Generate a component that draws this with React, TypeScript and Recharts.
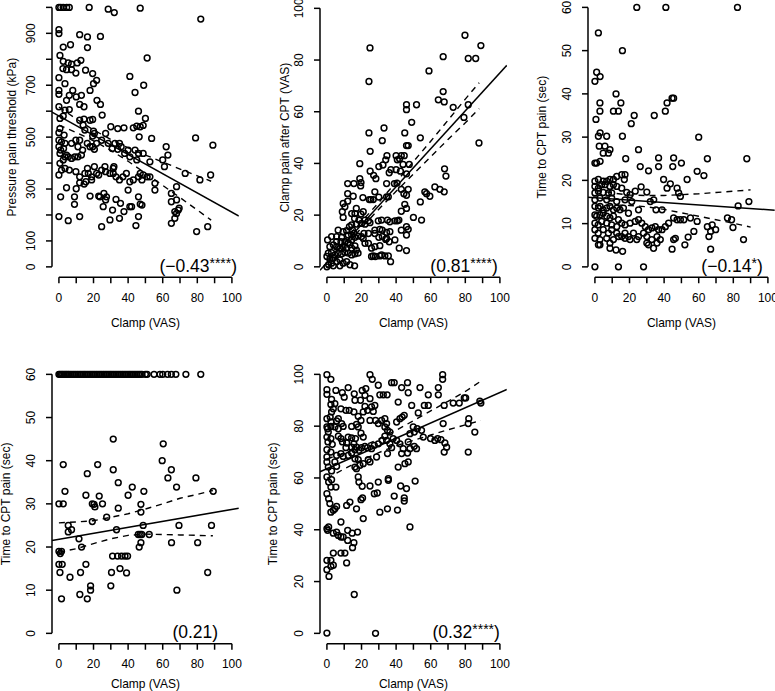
import React from 'react';
import { ScatterChart, Scatter, XAxis, YAxis, ReferenceLine } from 'recharts';

const FONT = '"Liberation Sans", Arial, Helvetica, sans-serif';

type Pt = [number, number];

// ---------- tick arrays ----------
const clampTicks = [0, 10, 20, 30, 40, 50, 60, 70, 80, 90, 100];
const clampTickLabels = [0, 20, 40, 60, 80, 100];
const pressureTicks = [0, 100, 200, 300, 400, 500, 600, 700, 800, 900, 1000];
const pressureTickLabels = [0, 100, 300, 500, 700, 900];
const vasTicks = [0, 20, 40, 60, 80, 100];
const secTicks = [0, 10, 20, 30, 40, 50, 60];

// ---------- panel 1: pressure pain threshold ----------
const p1Points: Pt[] = [
  [0,1000],[1,1000],[2.5,1000],[4.5,1000],[6,1000],[17.5,1000],[28.5,993],[32,980],[47,997],[82,955],
  [0,914],[0,899],[12,895],[16.5,886],[24,888],
  [2.5,847],[6.7,856],[16.5,845],[0.6,815],[51,805],
  [2.5,792],[5.4,786],[7.3,781],[10.6,786],[12.7,796],
  [2.3,764],[4.4,760],[7.3,760],[9.8,747],[15.4,758],[19.5,745],
  [0,729],[21.8,719],[20,706],[41,734],[3.5,706],
  [49,700],[44,672],
  [0,680],[0,665],[8,680],[6,661],[10,655],[13,661],[18,680],
  [4.4,642],[22,642],[24,626],[12,626],[14.5,617],[0,617],[3.5,604],[6,606],[46,600],[25,585],
  [0.6,572],[2.5,581],[50,572],[12,565],[14.5,569],[18,565],[19.5,568],
  [30,540],[34,533],[37.6,536],[43,536],[45,542],[47,540],[48.7,545],
  [0.6,533],[0,517],[15,527],[14,546],[20,523],[20.5,514],[19.5,504],[27,514],[3,508],[46.4,501],[79,497],[89,469],
  [0,488],[1.5,482],[3.5,476],[0,463],[1,450],[2.7,456],[0.6,437],[4.4,431],
  [7.3,476],[9.8,488],[11,463],[13.7,450],[12,488],
  [16.4,476],[18,463],[19.5,463],[21.8,476],[20.5,453],[24.7,488],
  [28.5,476],[30.8,456],[32.4,476],[34,453],[35,476],[36,463],[38,437],[40,450],[41,424],[44,450],[46,437],[45,412],[48.7,437],
  [52.6,405],[53.6,495],[62,463],[63,431],[60,412],[61,386],[73,360],[87.7,354],[81.5,335],
  [3.5,424],[5.4,424],[7.3,418],[9.2,424],[11,424],[13,431],
  [0.6,399],[2.5,412],[1.5,373],[3.5,379],[6,373],[9.8,367],[0,354],
  [16.5,379],[20.5,386],[21.8,360],[12,347],[15,360],[17,360],[18.9,347],[15.6,328],[12,324],[18.9,335],
  [23,354],[24.7,373],[26.6,386],[27,367],[29.5,360],[31.4,360],[33,347],[35,335],[37,347],[31.4,379],[31.8,386],
  [39,360],[41,328],[43,335],[46,347],[47,360],[48,335],[51,347],[52.6,347],[48.7,354],
  [55.5,322],[55.5,296],[4.4,305],[10,301],[14.6,319],
  [1,270],[9,270],[9,241],[18,273],[23,273],[23.7,270],[26,283],[27,258],[27.5,270],[25.6,232],[31,219],[33,260],[35.6,245],[40,296],[41,232],[42,232],
  [46,270],[47,242],[48,238],[46,194],[37.6,213],[35,187],[29.5,181],[24.7,155],[44.5,159],
  [0,194],[5.4,178],[12,194],
  [68,309],[65,283],[65,251],[68,258],[67,213],[68,206],[69,219],[69.5,226],[67,187],[65,168],
  [79.6,136],[86,155],
];
const p1Fit: Pt[] = [[-4, 596], [104, 196]];
const p1Upper: Pt[] = [[0,616],[10,570],[20,528],[30,491],[40,459],[50,431],[60,404],[70,377],[80,351],[88,330]];
const p1Lower: Pt[] = [[0,546],[10,518],[20,486],[30,449],[40,407],[50,361],[60,314],[70,267],[80,219],[88,180]];

// ---------- panel 2: clamp pain after CPT ----------
const p2Points: Pt[] = [
  [24.9,84.7],[24.3,71.7],[79.8,89.6],[89,85.6],[67.2,81.3],[81.7,80.6],[86,80.6],[59,75.8],
  [67.2,67.8],[64.4,64.6],[67.8,63.8],[81.7,62.7],[73,61.7],[79.2,57.8],[87.9,47.9],
  [46,62.7],[51.8,62.7],[46,60.8],[49,55.9],[33,53.7],[24.3,51.8],[45,51.8],[32,48.8],[54,49.9],
  [46,46.9],[47,46.9],[25,44.7],[19,39.9],[34.7,43],[40,43],[43,43],[44.7,43],[34,41.4],[40.7,41.4],[42,41.8],
  [25,37],[27,35.4],[28.3,34.1],[30,38.8],[32.4,39.4],[37,37.6],[40,37.6],[42.5,37],[44,39.6],[47.6,39.6],[46,36],[36,36.4],
  [34.5,32.2],[39,32.2],[40.5,32.4],[12,32.2],[15.6,32.2],[19,34.1],[19.7,32.6],[19.5,31.3],
  [12,28.3],[15.2,27.3],[20.8,26.8],[24.5,26],[25.4,26],[26.8,26],[27.7,29],[30,27],[34.5,27.1],[35.5,27.1],
  [43,30],[47,30],[44.5,28.3],[56.6,29],[57.6,28.3],[59.5,27.3],[54,25.1],[62.4,30.9],[65.3,30],[67.8,29],[68,37.9],[68.8,35.1],
  [9.4,24.5],[12,25.4],[10.4,23.2],[8.9,21.3],[9.4,19.1],[46,27.7],[45,24.2],[46,22.6],[43,21.5],[50,19.1],[54.7,18.1],
  [14.3,20.6],[17,22.6],[16.2,20.6],[19.7,20.4],[21,21.3],[16,18.7],[18.5,18.1],[22,18.1],[24,17.8],[24.9,17.1],[22,16.5],[20,16.8],[17,16.5],
  [13,15.5],[14.3,16.2],[14.8,14.2],[15.6,12.9],[12.3,12.3],[16.2,11.4],[18,11.9],
  [29.7,17.8],[31.6,18.1],[35,18.1],[36.4,17.4],[39.3,17.8],[40.7,17.8],[41.6,18.1],
  [30.6,14.5],[32,14.2],[34.5,13.3],[36.4,13.6],[27.7,12.9],[30,11.4],[32,11.7],[34.5,11],[34,10.6],[27.7,14.2],[24,12.9],
  [36,9.7],[39.3,10.4],[27.7,7.8],[30.6,8.2],[25.8,7.2],[28,4],[25.8,4],[26.8,4.2],[30.6,4.2],[31.6,4.6],[33.5,4.2],[35.5,4.2],[36.8,2],
  [41.8,7.2],[46,6.3],[46,15.5],[47,14.5],[46,12.3],[43,14.2],[21,11],[20,11.7],[21.4,12.9],
  [2.7,11.7],[5.6,11.7],[8.5,11.4],[6.5,14.2],[9.4,13.6],[11.4,14],
  [1.7,7.8],[3.7,8.5],[5.6,7.8],[7.5,7.2],[9.4,7.8],[11.4,7.2],[13.3,8.5],[14.3,7.2],[16.2,8.1],[17.1,6.5],
  [0.8,5.3],[2.7,5.5],[4.6,4.6],[6.5,5.3],[8.5,5],[10.4,5.5],[12.3,5.3],[14.3,4.6],[16.2,5],[18,5.3],
  [0,4],[1.7,2.9],[3.7,3.3],[5.6,2],[7.5,2.7],[9.4,1.4],[11.4,2],[13.3,0.8],[16,0.4],[7.5,0.4],[3.7,0.4],
  [0,0],[1,0.8],[2.7,1.4],[5.6,9.7],[8.1,9.7],[10.4,9.7],[12.3,9.4],[14.3,10.4],[0.4,10.4],[14.3,12.3],[22,9.1],[24,9.1],
];
const p2Fit: Pt[] = [[-4, -1.3], [104, 78]];
const p2Upper: Pt[] = [[0,3.6],[10,10.4],[20,17.5],[30,24.9],[40,32.8],[50,40.7],[60,48.6],[70,56.7],[80,64.9],[88,71.2]];
const p2Lower: Pt[] = [[0,-0.4],[10,7.4],[20,15.1],[30,22.3],[40,29.2],[50,35.9],[60,42.6],[70,49.3],[80,55.7],[88,61.2]];

// ---------- panel 3: time to CPT pain ----------
const p3Points: Pt[] = [
  [24.2,60],[41,60],[82.4,60],[2,54.1],[15.9,50],[0,42.9],[1,45],[12.2,40],[15,37.9],[10.7,36],[13.6,36],[2.9,37.9],[2.9,36],
  [40.7,36],[41.7,37.9],[44.6,39],[45.5,39],[22.7,35],[21,33.1],[34.3,35],[0.6,34.1],[2,30.2],[3,31],[6.8,30.2],[15.9,30.2],[60,30],
  [2.5,27.9],[5.8,27.9],[7.8,26.3],[8.7,27.1],[4.8,26.3],[25.2,27.1],[0,24],[1,24],[3,24.4],[17.8,25],[26.2,23.2],[31,22.2],[36.8,25.2],[36.8,23.2],
  [45.5,25.2],[45,23.2],[50,24],[53.3,20.2],[59.1,22.1],[63,21.1],[65,25],[87.8,25],[39.7,20.2],[43.6,19.2],[41.7,18.2],[47.5,18.2],[48.4,17.1],[49.4,16.3],
  [0,19.8],[2,20.2],[4.8,19.8],[6.8,19.8],[8.7,20.2],[10.7,20.2],[12.6,20.9],[15.5,21.3],[17.4,21.3],[17,20.2],
  [0,18.6],[2,18.2],[3.9,19],[5.8,19],[8.7,18.6],[10.7,19],[12.6,18.6],[15.5,18.2],
  [0,17.1],[2,17.5],[4.8,17.2],[7.8,17.1],[9.7,17.1],[18.4,17.2],[20.3,16.7],
  [0,15.5],[2.9,15.9],[6.8,15.5],[9.7,15.9],[12.6,15.1],[17.4,15.5],[21.3,15.1],
  [23.3,17.5],[26.7,18.5],[30,17.3],[32,15.1],[34,15.5],[35.3,13.2],[38.8,13.2],[25.2,13.2],
  [0,14],[2,13.6],[3,14],[4.8,13.2],[6.8,13.6],[8.7,14],[10.7,13.2],[12.6,13.6],[14.5,13.2],[16.5,13.6],[19.4,12.4],
  [0,12],[1,11.7],[2.9,12],[4.8,12.4],[6.8,11.7],[8.7,11.3],[10.7,11.7],[13.6,10.9],
  [0,10.1],[1.9,9.7],[3.9,10.5],[6.8,10.1],[9.7,9.7],[12.6,9.3],[15.5,10.1],[17.4,9.7],[20.3,10.1],[23.3,10.5],
  [25.2,10.9],[27.1,10.1],[29.1,9.3],[31,8.6],[33,9],[34.9,9.3],[36.8,8.6],[38.8,8.6],[40.7,9.3],[42.6,10.1],
  [45.5,11.3],[47.5,10.9],[49.4,10.9],[51.4,10.9],[55.2,11.3],[59.1,10.5],[76.6,11.3],[79,10.9],
  [65,9.3],[67.8,9.7],[69.8,8.6],[66.9,8.2],[65.9,7],[79.8,9.1],[85.9,6.3],
  [0,8.6],[1.9,7.8],[4.8,8.6],[7.8,7.8],[9.7,8.6],[12.6,7.8],[15.5,7],[17.4,7.8],[19.4,7],[22.3,7.8],[25.2,7],[28.1,7.8],[30,7],
  [0,6.6],[2.9,6.3],[6.8,6.6],[10.7,6.3],[13.6,7],[17.4,6.6],[20.3,6.3],[24.2,6.3],[30,5.5],[32.9,6.3],[35.9,7],[37.8,6.3],
  [2,5.1],[2.9,5.1],[8.7,5.5],[12.2,3.9],[16,3.6],[8.7,4.3],[31,5.1],[33.9,4.3],[35.9,5.5],
  [45.5,6.3],[46.5,6.6],[44.6,4.1],[52,5.1],[53.9,6.9],[57.2,8.2],[66.9,4.1],
  [0,0],[13.6,0],[28.1,0],[82.8,14.1],[89,15.1],[3,44],
];
const p3Fit: Pt[] = [[-4, 16.1], [104, 13.1]];
const p3Upper: Pt[] = [[0,17.8],[10,17.1],[20,16.6],[30,16.5],[40,16.5],[50,16.7],[60,16.9],[70,17.2],[80,17.5],[90,17.8]];
const p3Lower: Pt[] = [[0,14.2],[10,14.3],[20,14.2],[30,13.9],[40,13.3],[50,12.5],[60,11.7],[70,10.9],[80,10.1],[90,9.2]];

// ---------- panel 4: time to CPT pain (censored at 60) ----------
const p4Points: Pt[] = [
  [0,60],[0.7,60],[1.5,60],[2.2,60],[3,60],[3.8,60],[4.5,60],[5.3,60],[6,60],[7,60],[8,60],[9,60],[10,60],[11,60],[12,60],
  [13,60],[14,60],[15,60],[16,60],[17,60],[18,60],[19,60],[20,60],[21,60],[22,60],[23,60],[24,60],[25,60],[26,60],[27,60],
  [28,60],[29,60],[30,60],[31,60],[32,60],[33,60],[34,60],[35,60],[36,60],[37,60],[38,60],[39,60],[40,60],[41,60],[42,60],
  [43,60],[44,60],[45,60],[46,60],[47,60],[48,60],[50,60],[51,60],[55,60],[58.4,60],[60,60],[62.8,60],[65,60],[67.6,60],[73.4,60],[82,60],
  [31.4,45],[60.3,43.9],[2.5,39.1],[22.4,39.1],[16.4,37],[31.4,37.9],[65,37.9],[63,36],[79.2,36],[59.7,40],[34.3,34.9],[42.4,33.9],
  [3.5,32.9],[49.1,32.9],[89.2,32.9],[15.6,32],[23.3,31.8],[40,32],[68,33.9],
  [0,30],[2.5,30],[19.3,30],[20.3,29.9],[20.8,29.3],[25.2,30],[47.4,29.9],[34.3,29],[27.6,26.9],[19.3,25.9],[33.3,24],[47.4,28.1],
  [5.4,25],[7.3,24],[5.4,23.5],[48.7,25],[69.4,25],[88.2,25],[45.9,22.9],[47,22.9],[47.9,22.9],[52.2,22.9],[11.6,21.9],[13.1,20],
  [46.4,20],[47.4,21],[65.1,21],[80.2,21],
  [0,19],[1.5,19],[0.8,18.5],[31,17.9],[33.9,17.9],[36.2,17.9],[38.2,17.9],[39.7,17.9],[15.6,16],[0,16],[1.9,16],[35.3,15],
  [30.4,14.1],[39.1,14],[0.6,14.1],[12.5,14.1],[6.4,13],[86,14.1],
  [30,11],[18.3,11],[18.3,10],[12.1,9],[16.4,8],[68.2,10],[1.5,8],
];
const p4Fit: Pt[] = [[-4, 21.5], [104, 29.0]];
const p4Upper: Pt[] = [[0,25.6],[10,25.8],[20,26.1],[30,26.9],[40,27.7],[50,28.8],[60,30],[70,31.3],[80,32.2],[89,33.1]];
const p4Lower: Pt[] = [[0,18.8],[10,19.6],[20,20.8],[30,21.9],[40,22.7],[50,23],[60,22.9],[70,22.8],[80,22.7],[89,22.6]];

// ---------- panel 5 ----------
const p5Points: Pt[] = [
  [0,99.9],[24.9,99.9],[66.9,99.9],[66.9,98.1],[2.3,98.1],[26.2,98.1],[37.4,96.8],[38.9,96.8],[46.6,96.8],[53.8,94.9],[64.4,94.9],
  [0,94.1],[5.2,93.8],[12.3,94.9],[20.4,93.8],[22.5,94.5],[29.7,95.8],[0,92.3],[8.9,92.9],[15.8,92.5],[22,91.9],[30.6,92.1],[32.6,92.1],[34.8,92.1],[43.2,94.9],[47,92.9],
  [2.7,90.3],[10,91.2],[16.2,90],[19.4,90],[24.9,90.6],[58.6,92.1],[64.4,92.1],[79.4,90.9],[80.2,90.9],[88.4,89.7],[89,88.9],
  [2.3,88.4],[4.6,88.7],[3.7,86.7],[2.7,85.5],[8.1,86.7],[11,86.1],[12.9,86.1],[15.6,85.5],[21,85.5],[23.5,86.1],[26.8,85.7],[22,87.6],[25.8,87.4],[27.7,88],
  [41.2,89.3],[49,88],[52.8,85.1],[56.3,88],[58.6,88],[67.8,88],[73,88.9],[76.5,88.9],
  [0,82.9],[1.9,83.5],[6.6,82.9],[2.3,81.6],[9.4,79.9],[5.6,82],[8.5,81],[0,79.7],[0.4,79],[2.3,79.9],[4.6,79.7],[6.6,79],[0.8,77.7],
  [14.3,79.9],[17.1,80.7],[18.1,79.7],[18.1,83.8],[19.7,82.2],[24.9,82.2],[28.1,82.2],[29.7,81],[31.6,82.2],[33.5,82.9],[34.5,81],
  [40.3,81.6],[42.2,82.9],[43.5,83.5],[44.7,84.2],[49.9,79.7],[52.2,79],[33.5,79.7],[35,78.4],[36.4,77.7],
  [48,77.1],[50.5,77.7],[54.7,78.4],[55.7,75.8],[59.9,75.2],[62.4,74.5],[64,75.2],[65.9,74.8],[82,82.9],[81.7,81],[85.5,77.7],
  [67.2,81],[68.2,73.5],[69.2,71.9],[67.8,70],[81.7,70],
  [0,75.8],[0.6,73.9],[2.3,75.2],[3.1,73],[6.6,76.1],[8.1,75.2],[9,73.9],[11.4,73.5],[11,71.7],[14.3,71.9],[15.6,73.2],[12.3,75.8],[14.3,75.5],[16.5,75.2],[19.7,77.3],[21,75.8],
  [0,70.9],[2.3,70],[5.6,68.7],[8.1,69.4],[9.4,68.3],[12.3,68.7],[14.3,69.6],[16.2,70.9],[17.1,71.9],[18.5,70.7],[20,71.7],[22,72.2],[23.5,71.7],
  [25.8,71.3],[27.4,72.6],[29.7,73.2],[32,74.5],[33.5,76.1],[34.5,74.5],[38.3,75.2],[40.3,74.5],[42.2,73.2],[44.1,71.3],[47,73.9],[48,71.3],[50.5,72.2],
  [36.4,73.2],[37.4,71.7],[35,69.4],[43.2,69.4],[46.6,69.6],[47,66.2],[45.1,65.5],[41.2,64.2],[51.8,71.3],
  [0,68.1],[0,66.2],[0.8,64.2],[2.7,62.7],[4.6,66.2],[5.6,64.5],[16.2,67.4],[18.1,67.1],[16.2,64.2],[17.1,63.6],[19.1,64.9],[21,65.5],[23.9,67.1],[24.9,66.2],[28.7,68.1],
  [0,60.4],[1,58.4],[2.7,59.3],[2.3,56.5],[5.2,56.5],[18.1,60.4],[18.5,58.4],[24.9,56.9],[20.4,56.8],[29.7,58.4],[35.5,59.1],[35.5,59.7],[42.6,56.9],[46,55.9],[51,58.8],
  [0,53.9],[1,52],[1.7,50.1],[2.3,46.8],[3.7,47.5],[4.6,48.1],[5.6,49],[11.4,49.4],[13.3,50.7],[17.1,48.1],[19.7,51.6],[20.6,52.3],[27.4,53.9],[29.1,54.2],[30.6,46.8],[35,48.1],
  [38.9,53],[40.8,47.6],[44.7,52.3],[44.7,51.1],[48,41.1],[21,44.3],
  [0,40.4],[0.4,39.8],[1,41.1],[3.7,38.7],[5.6,39.1],[6.6,37.8],[8.1,37.2],[9.4,37.2],[8.1,43],[12,39.8],[14.6,38.7],[17.7,39.1],
  [12,35.9],[15.6,35],[14.8,33.1],[3.7,31],[8.1,31],[10.4,31],[2.3,28.2],[0,28.2],[3.7,26.3],[2.3,25.9],[0,24.6],[1.2,22],[11.4,27.2],
  [15.8,15],[0,0.1],[28.1,0],
];
const p5Fit: Pt[] = [[-4, 62.4], [104, 94.2]];
const p5Upper: Pt[] = [[0,67.4],[10,69.5],[20,72.1],[30,75],[40,78.4],[50,82.1],[60,85.9],[70,89.6],[80,93.4],[89,97.4]];
const p5Lower: Pt[] = [[0,59.8],[10,63.5],[20,66.9],[30,69.8],[40,72.4],[50,74.5],[60,76.6],[70,78.6],[80,80.5],[89,82.2]];

// ---------- texts ----------
const yTitles = [
  'Pressure pain threshold (kPa)',
  'Clamp pain after CPT (VAS)',
  'Time to CPT pain (sec)',
  'Time to CPT pain (sec)',
  'Time to CPT pain (sec)',
];
const xTitle = 'Clamp (VAS)';
const corrValues = ['(\u22120.43', '(0.81', '(\u22120.14', '(0.21', '(0.32'];
const corrStars = ['****', '****', '*', '', '****'];

const toXY = (arr: Pt[]) => arr.map(([x, y]) => ({ x, y }));

// ---------- layout ----------
const SX = 1.73;
const YW = 60;
const MT = 20;
const XH = 70;
const MR = 10;

type Cfg = {
  points: Pt[]; fit: Pt[]; upper: Pt[]; lower: Pt[];
  yMax: number; yTicks: number[]; yLabels: number[];
  title: string; corr: string; stars: string;
  px0: number; py0: number; pyTop: number;
  titleOff: number; xTitleOff: number; corrEnd: number;
};

const panels: Cfg[] = [
  { points: p1Points, fit: p1Fit, upper: p1Upper, lower: p1Lower, yMax: 1000, yTicks: pressureTicks, yLabels: pressureTickLabels,
    title: yTitles[0], corr: corrValues[0], stars: corrStars[0], px0: 59, py0: 267, pyTop: 7.5, titleOff: -40, xTitleOff: 45.6, corrEnd: 103 },
  { points: p2Points, fit: p2Fit, upper: p2Upper, lower: p2Lower, yMax: 100, yTicks: vasTicks, yLabels: vasTicks,
    title: yTitles[1], corr: corrValues[1], stars: corrStars[1], px0: 327, py0: 267, pyTop: 8.5, titleOff: -35, xTitleOff: 45.6, corrEnd: 98.8 },
  { points: p3Points, fit: p3Fit, upper: p3Upper, lower: p3Lower, yMax: 60, yTicks: secTicks, yLabels: secTicks,
    title: yTitles[2], corr: corrValues[2], stars: corrStars[2], px0: 594.5, py0: 267, pyTop: 7.5, titleOff: -46, xTitleOff: 45.6, corrEnd: 97 },
  { points: p4Points, fit: p4Fit, upper: p4Upper, lower: p4Lower, yMax: 60, yTicks: secTicks, yLabels: secTicks,
    title: yTitles[3], corr: corrValues[3], stars: corrStars[3], px0: 59, py0: 633, pyTop: 374, titleOff: -46, xTitleOff: 40, corrEnd: 92 },
  { points: p5Points, fit: p5Fit, upper: p5Upper, lower: p5Lower, yMax: 100, yTicks: vasTicks, yLabels: vasTicks,
    title: yTitles[4], corr: corrValues[4], stars: corrStars[4], px0: 327, py0: 633, pyTop: 374, titleOff: -47, xTitleOff: 40, corrEnd: 100 },
];

const Ring = (props: any) =>
  props.cx == null ? <g /> : (
    <circle cx={props.cx} cy={props.cy} r={2.9} fill="none" stroke="#000" strokeWidth={1.5} />
  );
const NoDot = () => <g />;

function Overlay(props: any) {
  const { cfg, sy } = props as { cfg: Cfg; sy: number };
  const yMaxD = 1.04 * cfg.yMax;
  const X = (x: number) => YW + (x + 4) * SX;
  const Y = (y: number) => MT + (yMaxD - y) * sy;
  const axisY = Y(-0.04 * cfg.yMax);
  const midX = X(50);
  const midY = (Y(yMaxD) + axisY) / 2;
  const tX = YW + cfg.titleOff + 4.3;
  return (
    <g fontFamily={FONT} fill="#000">
      <text x={midX} y={axisY + cfg.xTitleOff + 4.3} textAnchor="middle" fontSize={12}>{xTitle}</text>
      <text x={tX} y={midY} textAnchor="middle" fontSize={12} transform={`rotate(-90 ${tX} ${midY})`}>{cfg.title}</text>
      <text x={X(cfg.corrEnd)} y={Y(0) + 5} textAnchor="end" fontSize={17.5}>
        {cfg.corr}
        {cfg.stars ? <tspan fontSize={14} dy={-4}>{cfg.stars}</tspan> : null}
        {cfg.stars ? <tspan dy={4}>)</tspan> : ')'}
      </text>
    </g>
  );
}

function Panel({ cfg }: { cfg: Cfg }) {
  const yRangePx = cfg.py0 - cfg.pyTop;
  const sy = yRangePx / cfg.yMax;
  const regionLeft = cfg.px0 - 4 * SX;
  const regionW = 108 * SX;
  const regionTop = cfg.pyTop - 0.04 * yRangePx;
  const regionH = 1.08 * yRangePx;
  const W = YW + regionW + MR;
  const H = MT + regionH + XH;
  const yMin = -0.04 * cfg.yMax;
  const yMaxD = 1.04 * cfg.yMax;
  const axisLine = { stroke: '#000', strokeWidth: 1.5 };

  const xTick = (p: any) =>
    clampTickLabels.includes(p.payload.value) ? (
      <text x={p.x} y={p.y + 18.5} textAnchor="middle" fontSize={12} fontFamily={FONT} fill="#000">{p.payload.value}</text>
    ) : <g />;
  const yTick = (p: any) =>
    cfg.yLabels.includes(p.payload.value) ? (
      <text x={p.x - 11} y={p.y} textAnchor="middle" fontSize={12} fontFamily={FONT} fill="#000"
        transform={`rotate(-90 ${p.x - 11} ${p.y})`}>{p.payload.value}</text>
    ) : <g />;

  return (
    <div style={{ position: 'absolute', left: regionLeft - YW, top: regionTop - MT }}>
      <ScatterChart width={W} height={H} margin={{ top: MT, right: MR, bottom: 0, left: 0 }}>
        <XAxis type="number" dataKey="x" domain={[-4, 104]} ticks={clampTicks} interval={0} allowDataOverflow
          axisLine={false} tickSize={6} tickMargin={0} tickLine={axisLine} height={XH} tick={xTick}
          label={<Overlay cfg={cfg} sy={sy} />} />
        <YAxis type="number" dataKey="y" domain={[yMin, yMaxD]} ticks={cfg.yTicks} interval={0} allowDataOverflow
          axisLine={false} tickSize={6} tickMargin={0} tickLine={axisLine} width={YW} tick={yTick} />
        <ReferenceLine segment={[{ x: 0, y: yMin }, { x: 100, y: yMin }]} stroke="#000" strokeWidth={1.5} ifOverflow="visible" />
        <ReferenceLine segment={[{ x: -4, y: 0 }, { x: -4, y: cfg.yMax }]} stroke="#000" strokeWidth={1.5} ifOverflow="visible" />
        <Scatter data={toXY(cfg.points)} shape={Ring} isAnimationActive={false} />
        <Scatter data={toXY(cfg.fit)} shape={NoDot} line={{ stroke: '#000', strokeWidth: 1.5 }} isAnimationActive={false} />
        <Scatter data={toXY(cfg.upper)} shape={NoDot} line={{ stroke: '#000', strokeWidth: 1.4, strokeDasharray: '6 5' }} isAnimationActive={false} />
        <Scatter data={toXY(cfg.lower)} shape={NoDot} line={{ stroke: '#000', strokeWidth: 1.4, strokeDasharray: '6 5' }} isAnimationActive={false} />
      </ScatterChart>
    </div>
  );
}

export default function App() {
  return (
    <div style={{ position: 'absolute', left: 0, top: 0, width: 775, height: 691, background: '#fff', overflow: 'hidden' }}>
      {panels.map((cfg, i) => <Panel key={i} cfg={cfg} />)}
    </div>
  );
}
